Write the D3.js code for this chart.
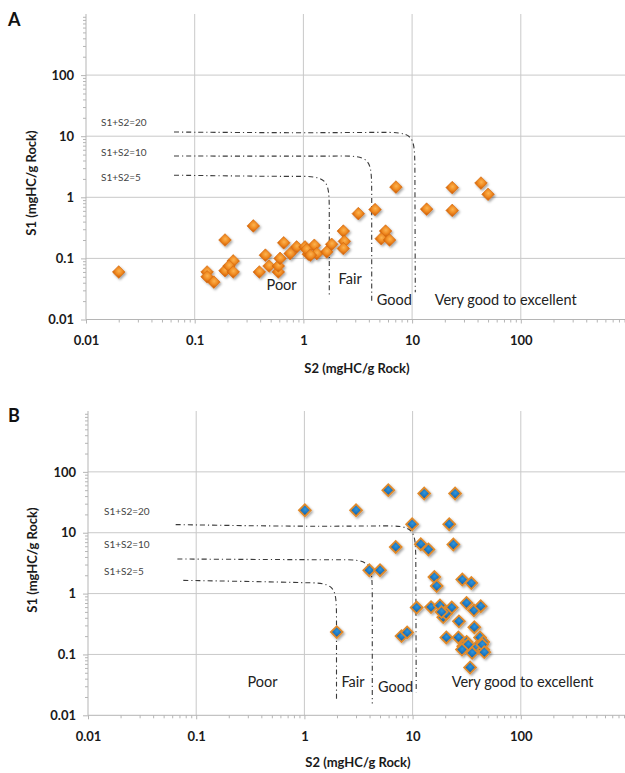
<!DOCTYPE html>
<html>
<head>
<meta charset="utf-8">
<script src="https://cdn.jsdelivr.net/npm/d3@7"></script>
<style>
  body { margin: 0; background: #fff; }
  svg { display: block; }
</style>
</head>
<body>
<svg id="chart" width="625" height="773"></svg>
<script>
// Axis ticks (both axes are log10, decades 0.01 … 100 labelled)
const decadeTicks = [0.01, 0.1, 1, 10, 100];
const decadeLabels = ["0.01", "0.1", "1", "10", "100"];
const gridValues = [0.1, 1, 10, 100, 1000];

// Panel A samples: S2 and S1 (mgHC/g rock)
const sampleA_S2 = [0.02, 0.13, 0.13, 0.15, 0.19, 0.19, 0.226, 0.207, 0.226, 0.346,
  0.447, 0.393, 0.483, 0.588, 0.588, 0.659, 0.61, 0.754, 0.866, 1.035,
  1.11, 1.26, 1.33, 1.64, 1.82, 2.33, 2.38, 2.33, 3.2, 4.56,
  7.1, 5.7, 5.2, 6.2, 13.6, 23.4, 23.4, 43, 50, 1.07, 1.16];
const sampleA_S1 = [0.06, 0.06, 0.05, 0.041, 0.063, 0.2, 0.091, 0.075, 0.06, 0.34,
  0.113, 0.06, 0.075, 0.06, 0.075, 0.18, 0.1, 0.12, 0.154, 0.154,
  0.117, 0.164, 0.12, 0.128, 0.17, 0.28, 0.19, 0.145, 0.54, 0.63,
  1.47, 0.28, 0.21, 0.2, 0.64, 1.44, 0.61, 1.71, 1.12, 0.14, 0.113];

// Panel B samples: S2 and S1 (mgHC/g rock)
const sampleB_S2 = [1.01, 3.0, 1.99, 5.96, 12.8, 24.7, 9.9, 21.8, 6.98, 11.9,
  14, 23.8, 3.98, 5.0, 15.9, 16.7, 28.8, 34.9, 10.9, 14.8,
  17.9, 23, 19.2, 20.4, 18.5, 31.5, 36.9, 42.6, 26.8, 37.2,
  7.9, 8.9, 20.5, 26.5, 31.6, 42, 45, 29.4, 34, 38.8,
  45, 32.6, 28.6, 35.5, 44, 46, 34];
const sampleB_S1 = [23.4, 23.4, 0.233, 50, 44, 44, 13.8, 13.8, 5.84, 6.47,
  5.3, 6.4, 2.42, 2.42, 1.87, 1.33, 1.7, 1.49, 0.59, 0.6,
  0.64, 0.59, 0.41, 0.47, 0.5, 0.7, 0.53, 0.62, 0.35, 0.28,
  0.2, 0.23, 0.19, 0.19, 0.16, 0.19, 0.16, 0.136, 0.12, 0.13,
  0.12, 0.145, 0.12, 0.106, 0.145, 0.109, 0.061];

// Boundary lines S1+S2 = 20 / 10 / 5 as [S2, S1] control points
const boundaryNames = ["S1+S2=20", "S1+S2=10", "S1+S2=5"];
const boundaryA = [
  [[0.0645, 11.7], [1, 11.3], [5.6, 11.6], [10.6, 11.6], [10.6, 3.75], [10.7, 0.028]],
  [[0.0645, 4.74], [1, 4.7], [2.25, 4.74], [4.25, 4.74], [4.25, 1.53], [4.25, 0.0195]],
  [[0.0645, 2.3], [0.5, 2.2], [0.92, 2.2], [1.73, 2.2], [1.73, 0.71], [1.73, 0.025]]
];
const boundaryB = [
  [[0.0646, 13.6], [1, 12.6], [5.67, 13.0], [10.7, 13.0], [10.7, 4.2], [10.8, 0.024]],
  [[0.067, 3.7], [1, 3.6], [2.25, 3.6], [4.24, 3.6], [4.24, 1.16], [4.24, 0.0156]],
  [[0.076, 1.65], [0.6, 1.55], [1.05, 1.5], [1.98, 1.5], [1.98, 0.48], [1.98, 0.0176]]
];

// Source-rock quality classes, anchored at [S2, S1]
const classNames = ["Poor", "Fair", "Good", "Very good to excellent"];
const classAnchorA = [[0.63, 0.0365], [2.69, 0.047], [6.85, 0.0207], [72.6, 0.0207]];
const classAnchorB = [[0.41, 0.036], [2.81, 0.036], [6.97, 0.0288], [104, 0.036]];

const svg = d3.select("#chart");
const FONT = "Lato, 'Open Sans', sans-serif";

// shared defs: marker shading and drop shadow
const defs = svg.append("defs");
const shadow = defs.append("filter").attr("id", "shadow")
  .attr("x", "-50%").attr("y", "-50%").attr("width", "200%").attr("height", "200%");
shadow.append("feDropShadow").attr("dx", 1.4).attr("dy", 1.6)
  .attr("stdDeviation", 1.1).attr("flood-color", "#000").attr("flood-opacity", 0.35);

const gOrange = defs.append("radialGradient").attr("id", "orangeFill")
  .attr("cx", "45%").attr("cy", "40%").attr("r", "65%");
gOrange.append("stop").attr("offset", "0%").attr("stop-color", "#fcb451");
gOrange.append("stop").attr("offset", "60%").attr("stop-color", "#f08b22");
gOrange.append("stop").attr("offset", "100%").attr("stop-color", "#d8680c");

const gBlue = defs.append("radialGradient").attr("id", "blueFill")
  .attr("cx", "45%").attr("cy", "40%").attr("r", "65%");
gBlue.append("stop").attr("offset", "0%").attr("stop-color", "#2f95dc");
gBlue.append("stop").attr("offset", "70%").attr("stop-color", "#1a72bd");
gBlue.append("stop").attr("offset", "100%").attr("stop-color", "#135c9c");

function minorValues() {
  const out = [];
  for (let e = -2; e <= 2; e++) {
    for (let m = 2; m <= 9; m++) out.push(m * Math.pow(10, e));
  }
  return out;
}

function drawPanel(cfg) {
  const x = d3.scaleLog().domain([0.01, 1000]).range([cfg.left, cfg.right]);
  const y = d3.scaleLog().domain([0.01, 1000]).range([cfg.bottom, cfg.top]);
  const g = svg.append("g");

  // gridlines
  g.append("g").selectAll("line").data(gridValues).join("line")
    .attr("x1", d => x(d)).attr("x2", d => x(d))
    .attr("y1", cfg.top).attr("y2", cfg.bottom)
    .attr("stroke", "#c9c9c9").attr("stroke-width", 1);
  g.append("g").selectAll("line").data(gridValues.slice(0, 4)).join("line")
    .attr("x1", cfg.left).attr("x2", 625)
    .attr("y1", d => y(d)).attr("y2", d => y(d))
    .attr("stroke", "#c9c9c9").attr("stroke-width", 1);

  // minor ticks
  const minors = minorValues();
  const yMinor = g.append("g").attr("transform", `translate(${cfg.left},0)`)
    .call(d3.axisLeft(y).tickValues(minors).tickSize(3).tickFormat(""));
  const xMinor = g.append("g").attr("transform", `translate(0,${cfg.bottom})`)
    .call(d3.axisBottom(x).tickValues(minors.concat([2000, 3000])).tickSize(3).tickFormat(""));

  // major axes with labels
  const yAxis = g.append("g").attr("transform", `translate(${cfg.left},0)`)
    .call(d3.axisLeft(y).tickValues(decadeTicks).tickSize(5).tickPadding(7)
      .tickFormat((d, i) => decadeLabels[i]));
  const xAxis = g.append("g").attr("transform", `translate(0,${cfg.bottom})`)
    .call(d3.axisBottom(x).tickValues(decadeTicks).tickSize(4).tickPadding(12)
      .tickFormat((d, i) => decadeLabels[i]));

  [yMinor, xMinor, yAxis, xAxis].forEach(a => {
    a.select(".domain").attr("stroke", "#b5b5b5");
    a.selectAll(".tick line").attr("stroke", "#b5b5b5");
  });
  xMinor.select(".domain").attr("d", `M${cfg.left},0H625`);
  xAxis.select(".domain").remove();
  yAxis.select(".domain").remove();
  yMinor.select(".domain").attr("d", `M0,${cfg.bottom}V${cfg.top}`);
  [yAxis, xAxis].forEach(a => a.selectAll("text")
    .attr("font-family", FONT).attr("font-weight", 700).attr("font-size", 13).attr("fill", "#1a1a1a"));

  // boundary curves
  const line = d3.line().x(d => x(d[0])).y(d => y(d[1])).curve(d3.curveBasis);
  g.append("g").selectAll("path").data(cfg.curves).join("path")
    .attr("d", line).attr("fill", "none")
    .attr("stroke", "#3a3a3a").attr("stroke-width", 1.1)
    .attr("stroke-dasharray", "5,3,1.2,3");

  g.append("g").selectAll("text").data(boundaryNames).join("text")
    .attr("x", cfg.curveLabelX).attr("y", (d, i) => cfg.curveLabelY[i])
    .attr("dy", "0.35em")
    .attr("font-family", FONT).attr("font-size", 10).attr("fill", "#444")
    .text(d => d);

  // quality classes
  g.append("g").selectAll("text").data(classNames).join("text")
    .attr("x", (d, i) => x(cfg.classAnchors[i][0]))
    .attr("y", (d, i) => y(cfg.classAnchors[i][1]))
    .attr("text-anchor", "middle").attr("dy", "0.35em")
    .attr("font-family", FONT).attr("font-size", 14.5).attr("fill", "#222")
    .text(d => d);

  // samples
  const pts = cfg.s2.map((v, i) => [v, cfg.s1[i]]);
  const diamond = d3.symbol().type(d3.symbolSquare).size(cfg.markerSize);
  g.append("g").attr("filter", "url(#shadow)")
    .selectAll("path").data(pts).join("path")
    .attr("d", diamond)
    .attr("transform", d => `translate(${x(d[0])},${y(d[1])}) rotate(45)`)
    .attr("fill", cfg.fill).attr("stroke", cfg.stroke).attr("stroke-width", cfg.strokeWidth);

  // axis titles
  g.append("text").attr("x", cfg.xTitleX).attr("y", cfg.xTitleY)
    .attr("text-anchor", "middle").attr("dy", "0.35em")
    .attr("font-family", FONT).attr("font-weight", 700).attr("font-size", 13).attr("fill", "#1a1a1a")
    .text("S2 (mgHC/g Rock)");
  g.append("text")
    .attr("transform", `translate(${cfg.yTitleX},${cfg.yTitleY}) rotate(-90)`)
    .attr("text-anchor", "middle").attr("dy", "0.35em")
    .attr("font-family", FONT).attr("font-weight", 700).attr("font-size", 13).attr("fill", "#1a1a1a")
    .text("S1 (mgHC/g Rock)");

  // panel letter
  g.append("text").attr("x", cfg.letterX).attr("y", cfg.letterY)
    .attr("dy", "0.35em")
    .attr("font-family", FONT).attr("font-weight", 700).attr("font-size", 18).attr("fill", "#111")
    .text(cfg.letter);
}

drawPanel({
  letter: "A", letterX: 8, letterY: 20,
  left: 86, right: 629.5, top: 14, bottom: 319.5,
  s2: sampleA_S2, s1: sampleA_S1,
  curves: boundaryA, curveLabelX: 101, curveLabelY: [122, 152.5, 177.5],
  classAnchors: classAnchorA,
  fill: "url(#orangeFill)", stroke: "#d46a10", strokeWidth: 0.6, markerSize: 80,
  xTitleX: 357, xTitleY: 368, yTitleX: 31, yTitleY: 183
});

drawPanel({
  letter: "B", letterX: 8, letterY: 416,
  left: 88, right: 629, top: 411, bottom: 715.3,
  s2: sampleB_S2, s1: sampleB_S1,
  curves: boundaryB, curveLabelX: 104, curveLabelY: [511, 544, 571],
  classAnchors: classAnchorB,
  fill: "url(#blueFill)", stroke: "#e08a2c", strokeWidth: 1.8, markerSize: 70,
  xTitleX: 358, xTitleY: 762, yTitleX: 32, yTitleY: 560
});
</script>
</body>
</html>
